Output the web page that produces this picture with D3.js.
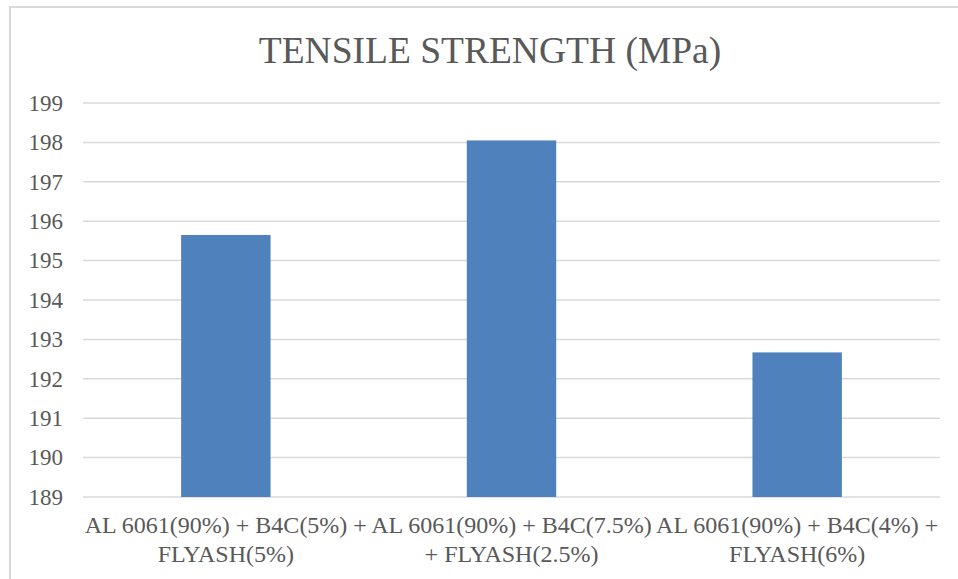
<!DOCTYPE html>
<html>
<head>
<meta charset="utf-8">
<script src="https://cdn.jsdelivr.net/npm/d3@7"></script>
<style>
  html, body { margin: 0; padding: 0; background: #fff; }
  svg { display: block; }
</style>
</head>
<body>
<svg id="chart" width="958" height="579"></svg>
<script>
const title = "TENSILE STRENGTH (MPa)";
const categories = [
  "AL 6061(90%) + B4C(5%) + FLYASH(5%)",
  "AL 6061(90%) + B4C(7.5%) + FLYASH(2.5%)",
  "AL 6061(90%) + B4C(4%) + FLYASH(6%)"
];
const categoryLines = [
  ["AL 6061(90%) + B4C(5%) +", "FLYASH(5%)"],
  ["AL 6061(90%) + B4C(7.5%)", "+ FLYASH(2.5%)"],
  ["AL 6061(90%) + B4C(4%) +", "FLYASH(6%)"]
];
const values = [195.65, 198.05, 192.67];
const yTicks = [189, 190, 191, 192, 193, 194, 195, 196, 197, 198, 199];

const svg = d3.select("#chart");
const W = 958, H = 579;
const plotLeft = 83, plotRight = 940, plotTop = 103, plotBottom = 497;
const font = "'Liberation Serif', 'Times New Roman', serif";
const textColor = "#595959";

svg.append("rect").attr("x", 0).attr("y", 0).attr("width", W).attr("height", H).attr("fill", "#fff");
svg.append("rect").attr("x", 10).attr("y", 7).attr("width", W + 20).attr("height", H + 20)
  .attr("fill", "none").attr("stroke", "#d9d9d9").attr("stroke-width", 2);

const x = d3.scaleBand().domain(categories).range([plotLeft, plotRight]).paddingInner(0.687).paddingOuter(0.3435);
const y = d3.scaleLinear().domain([189, 199]).range([plotBottom, plotTop]);

// gridlines
svg.append("g").selectAll("line").data(yTicks).join("line")
  .attr("x1", plotLeft).attr("x2", plotRight)
  .attr("y1", d => y(d)).attr("y2", d => y(d))
  .attr("stroke", "#d9d9d9").attr("stroke-width", 1.5);

// y axis labels
const yAxis = d3.axisLeft(y).tickValues(yTicks).tickSize(0).tickPadding(0).tickFormat(d3.format("d"));
const gy = svg.append("g").attr("transform", `translate(${63},0)`).call(yAxis);
gy.select(".domain").remove();
gy.selectAll("text").attr("font-family", font).attr("font-size", 23).attr("fill", textColor);

// bars
svg.append("g").selectAll("rect").data(values).join("rect")
  .attr("x", (d, i) => x(categories[i]))
  .attr("width", x.bandwidth())
  .attr("y", d => y(d))
  .attr("height", d => y(189) - y(d))
  .attr("fill", "#4f81bd");

// x axis labels
const gx = svg.append("g");
categories.forEach((c, i) => {
  const cx = x(c) + x.bandwidth() / 2;
  const t = gx.append("text").attr("font-family", font).attr("font-size", 24)
    .attr("fill", textColor).attr("text-anchor", "middle");
  categoryLines[i].forEach((ln, j) => {
    t.append("tspan").attr("x", cx).attr("y", 533 + j * 29).text(ln);
  });
});

// title
svg.append("text").attr("x", 490).attr("y", 63).attr("text-anchor", "middle")
  .attr("font-family", font).attr("font-size", 37.5).attr("fill", textColor).text(title);
</script>
</body>
</html>
